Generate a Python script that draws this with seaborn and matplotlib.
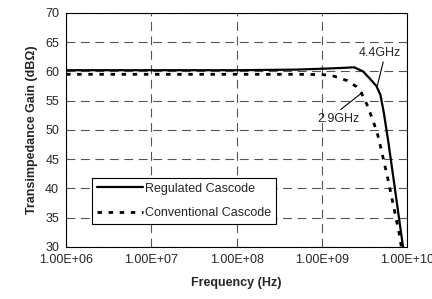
import numpy as np
import pandas as pd
import matplotlib
matplotlib.use("Agg")
import matplotlib.pyplot as plt
import seaborn as sns

# Values
reg_freq = [1e6, 1e7, 1e8, 5e8, 1e9, 1.8e9, 2.4e9, 3.05e9, 3.65e9, 4.38e9, 4.88e9, 5.33e9,
            6.0e9, 7.0e9, 8.0e9, 9.0e9]
reg_gain = [60.2, 60.2, 60.2, 60.3, 60.45, 60.6, 60.7, 60.0, 58.8, 57.5, 56.0, 53.1,
            48.3, 41.4, 35.3, 30.0]
conv_freq = [1e6, 1e7, 1e8, 5e8, 1e9, 1.3e9, 1.6e9, 2.0e9, 2.55e9, 2.92e9, 3.4e9, 4.0e9,
             4.57e9, 5.0e9, 6.0e9, 7.0e9, 8.0e9, 8.6e9]
conv_gain = [59.5, 59.5, 59.5, 59.5, 59.45, 59.3, 58.9, 58.4, 57.4, 56.3, 54.3, 51.6,
             49.0, 46.6, 41.5, 36.8, 32.8, 30.0]
xticks = [1e6, 1e7, 1e8, 1e9, 1e10]
yticks = [30, 35, 40, 45, 50, 55, 60, 65, 70]

df = pd.concat([
    pd.DataFrame({"Frequency": reg_freq, "Gain": reg_gain, "Series": "Regulated Cascode"}),
    pd.DataFrame({"Frequency": conv_freq, "Gain": conv_gain, "Series": "Conventional Cascode"}),
])

sns.set_style("white")
plt.rcParams['font.family'] = ['Liberation Sans', 'DejaVu Sans']
fs = 9

fig = plt.figure(figsize=(4.32, 2.99), dpi=100)
ax = fig.add_axes([0.153, 0.174, 0.789, 0.783])

sns.lineplot(data=df, x="Frequency", y="Gain", hue="Series", style="Series",
             palette=["black", "black"], dashes=[(None, None), (1.6, 2.4)],
             ax=ax, sort=False)
ax.lines[0].set_linewidth(1.6)
ax.lines[1].set_linewidth(2.0)

ax.set_xscale("log")
ax.set_xlim(1e6, 1e10)
ax.set_ylim(30, 70)
ax.set_xticks(xticks)
ax.set_xticklabels(["%.2E" % v for v in xticks], fontsize=fs)
ax.xaxis.set_minor_locator(matplotlib.ticker.NullLocator())
ax.set_yticks(yticks)
ax.set_yticklabels([str(v) for v in yticks], fontsize=fs)
ax.tick_params(axis="both", length=0, pad=5)
ax.grid(True, color="#555555", linestyle=(0, (8, 5)), linewidth=0.8)
for s in ax.spines.values():
    s.set_color("black")
    s.set_linewidth(0.8)

ax.set_xlabel("Frequency (Hz)", fontsize=fs, fontweight="bold", labelpad=8)
ax.set_ylabel("Transimpedance Gain (dB\u03a9)", fontsize=fs, fontweight="bold", labelpad=5)

leg = ax.legend(loc="lower left", bbox_to_anchor=(0.076, 0.098), borderaxespad=0,
                fontsize=fs, frameon=True, fancybox=False, edgecolor="black", framealpha=1,
                handlelength=3.7, handletextpad=0.15, labelspacing=1.0, borderpad=0.4)
leg.get_frame().set_linewidth(0.8)
leg.get_lines()[0].set_linewidth(1.6)
leg.get_lines()[1].set_linewidth(2.0)

ax.annotate("4.4GHz", xy=(4.5e9, 57.6), xytext=(4.8e9, 63.2), fontsize=fs,
            ha="center", va="center",
            arrowprops=dict(arrowstyle="-", color="black", lw=0.8, shrinkA=0, shrinkB=0,
                            relpos=(0.6, 0.0)))
ax.annotate("2.9GHz", xy=(3.0e9, 56.4), xytext=(1.58e9, 51.9), fontsize=fs,
            ha="center", va="center",
            arrowprops=dict(arrowstyle="-", color="black", lw=0.8, shrinkA=0, shrinkB=0,
                            relpos=(0.45, 1.0)))

fig.savefig("out.png", dpi=100)
